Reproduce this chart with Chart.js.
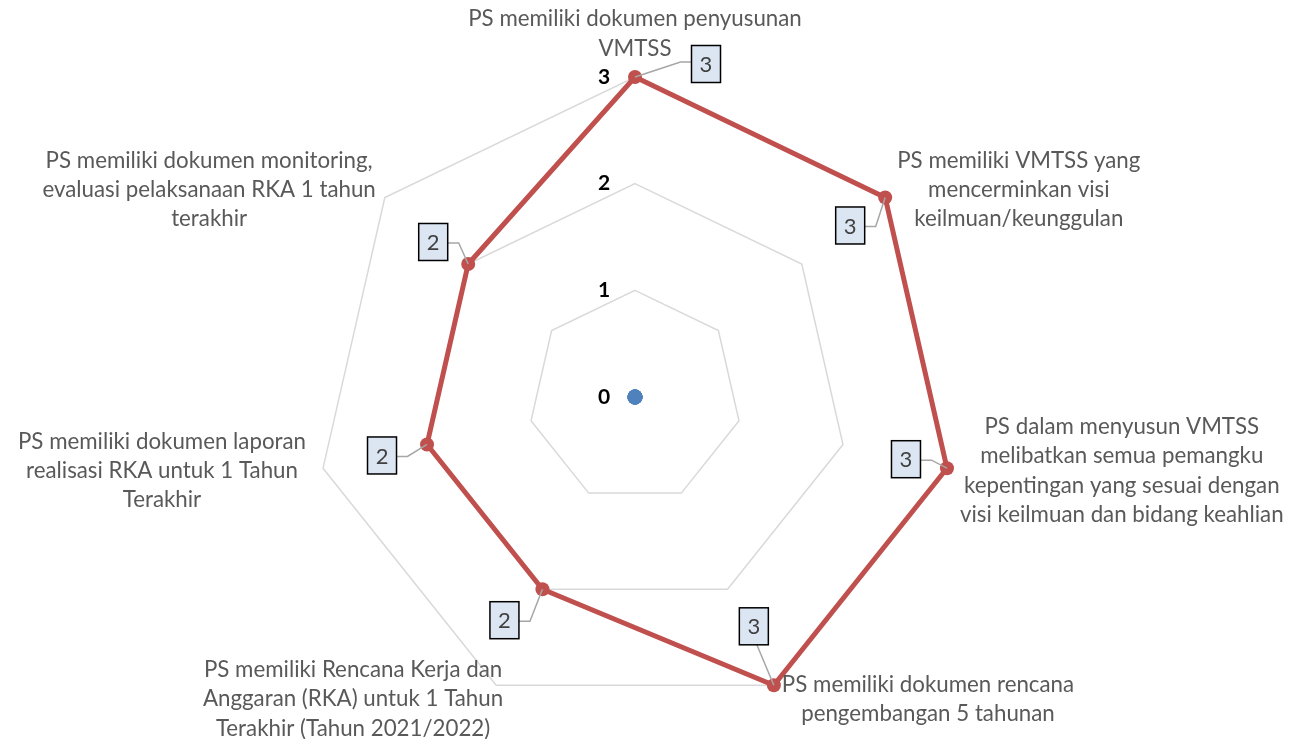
<!DOCTYPE html>
<html>
<head>
<meta charset="utf-8">
<script src="https://cdn.jsdelivr.net/npm/chart.js@4.4.1/dist/chart.umd.min.js"></script>
<style>
  html, body { margin: 0; background: #fff; }
  #wrap { width: 1292px; height: 739px; position: relative; }
</style>
</head>
<body>
<div id="wrap"><canvas id="radar"></canvas></div>
<script>
// kategori (label sumbu), tiap baris satu elemen
const categories = [
  ['PS memiliki dokumen penyusunan', 'VMTSS'],
  ['PS memiliki VMTSS yang', 'mencerminkan visi', 'keilmuan/keunggulan'],
  ['PS dalam menyusun VMTSS', 'melibatkan semua pemangku', 'kepentingan yang sesuai dengan', 'visi keilmuan dan bidang keahlian'],
  ['PS memiliki dokumen rencana', 'pengembangan 5 tahunan'],
  ['PS memiliki Rencana Kerja dan', 'Anggaran (RKA) untuk 1 Tahun', 'Terakhir (Tahun 2021/2022)'],
  ['PS memiliki dokumen laporan', 'realisasi RKA untuk 1 Tahun', 'Terakhir'],
  ['PS memiliki dokumen monitoring,', 'evaluasi pelaksanaan RKA 1 tahun', 'terakhir']
];
const skor = [3, 3, 3, 3, 2, 2, 2];
const dasar = [0, 0, 0, 0, 0, 0, 0];
const tickLabels = ['0', '1', '2', '3'];

// posisi kotak label data relatif ke titik (gaya, bukan data)
const boxOffset = [[71, -13], [-35, 28], [-41, -9], [-20, -59], [-38, 31], [-45, 11], [-35, -22]];
// jarak label sumbu dari ujung poligon luar
const labelGap = [14, 12, 13, 8, -7, 17, 9];

const FONT = 'Lato, "Open Sans", sans-serif';

// label sumbu gaya Excel: tiap baris di tengah
const axisLabels = {
  id: 'axisLabels',
  afterDraw(chart) {
    const s = chart.scales.r;
    const ctx = chart.ctx;
    const r = s.drawingArea;
    ctx.save();
    ctx.font = '24px ' + FONT;
    const k = 334 / ctx.measureText(categories[0][0]).width;
    const size = Math.min(26, 24 * k);
    ctx.font = size.toFixed(1) + 'px ' + FONT;
    ctx.fillStyle = '#595959';
    ctx.textAlign = 'center';
    ctx.textBaseline = 'middle';
    const lh = 29.3;
    categories.forEach((lines, i) => {
      const p = s.getPointPosition(i, r);
      const dx = p.x - s.xCenter, dy = p.y - s.yCenter;
      const w = Math.max(...lines.map(t => ctx.measureText(t).width));
      const h = lines.length * lh;
      let cx, cy;
      if (Math.abs(dx) < 5) {
        cx = p.x;
        cy = p.y - labelGap[i] - h / 2;
      } else {
        cx = dx > 0 ? p.x + labelGap[i] + w / 2 : p.x - labelGap[i] - w / 2;
        cy = p.y + (dy / r) * 12 + (dy / r > 0.8 ? 3 : 0);
      }
      lines.forEach((t, j) => {
        ctx.fillText(t, cx, cy - h / 2 + lh * (j + 0.5));
      });
    });

    // angka skala di kiri sumbu vertikal
    ctx.font = 'bold 21px ' + FONT;
    ctx.fillStyle = '#000';
    s.ticks.forEach((t, j) => {
      const d = s.getDistanceFromCenterForValue(t.value);
      ctx.fillText(tickLabels[j] ?? String(t.value), s.xCenter - 31, s.yCenter - d);
    });
    ctx.restore();
  }
};

// kotak label nilai dengan garis penunjuk
const valueBoxes = {
  id: 'valueBoxes',
  afterDatasetsDraw(chart) {
    const meta = chart.getDatasetMeta(1);
    const ctx = chart.ctx;
    const bw = 29, bh = 37;
    ctx.save();
    meta.data.forEach((pt, i) => {
      const bx = pt.x + boxOffset[i][0], by = pt.y + boxOffset[i][1];
      // garis penunjuk
      ctx.strokeStyle = '#a6a6a6';
      ctx.lineWidth = 1.5;
      ctx.beginPath();
      ctx.moveTo(pt.x, pt.y);
      if (Math.abs(boxOffset[i][0]) < bw) {
        ctx.lineTo(bx + 3, by + bh / 2);
      } else if (boxOffset[i][0] > 0) {
        ctx.lineTo(bx - bw / 2 - 11, by - 2);
        ctx.lineTo(bx - bw / 2, by - 2);
      } else {
        ctx.lineTo(bx + bw / 2 + 11, by + 1);
        ctx.lineTo(bx + bw / 2, by + 1);
      }
      ctx.stroke();
      // kotak
      ctx.fillStyle = '#dce6f2';
      ctx.fillRect(bx - bw / 2, by - bh / 2, bw, bh);
      ctx.strokeStyle = '#000';
      ctx.lineWidth = 1.5;
      ctx.strokeRect(bx - bw / 2, by - bh / 2, bw, bh);
      ctx.fillStyle = '#404040';
      ctx.font = '22px ' + FONT;
      ctx.textAlign = 'center';
      ctx.textBaseline = 'middle';
      ctx.fillText(String(skor[i]), bx, by + 1);
    });
    ctx.restore();
  }
};

new Chart(document.getElementById('radar'), {
  type: 'radar',
  data: {
    labels: categories,
    datasets: [
      {
        label: 'Dasar',
        data: dasar,
        borderWidth: 0,
        showLine: false,
        pointRadius: 7.5,
        pointBackgroundColor: '#4f81bd',
        pointBorderWidth: 0,
        fill: false
      },
      {
        label: 'Skor',
        data: skor,
        borderColor: '#c0504d',
        borderWidth: 5,
        pointRadius: 7,
        pointBackgroundColor: '#c0504d',
        pointBorderColor: '#c0504d',
        pointBorderWidth: 0,
        fill: false,
        tension: 0
      }
    ]
  },
  options: {
    responsive: true,
    maintainAspectRatio: false,
    animation: false,
    layout: { padding: { left: 0, right: 22, top: 77, bottom: 22 } },
    plugins: { legend: { display: false }, tooltip: { enabled: false } },
    scales: {
      r: {
        min: 0,
        max: 3,
        ticks: { stepSize: 1, display: false },
        grid: { color: '#d9d9d9', lineWidth: 1.5 },
        angleLines: { display: false },
        pointLabels: { display: false }
      }
    }
  },
  plugins: [axisLabels, valueBoxes]
});
</script>
</body>
</html>
